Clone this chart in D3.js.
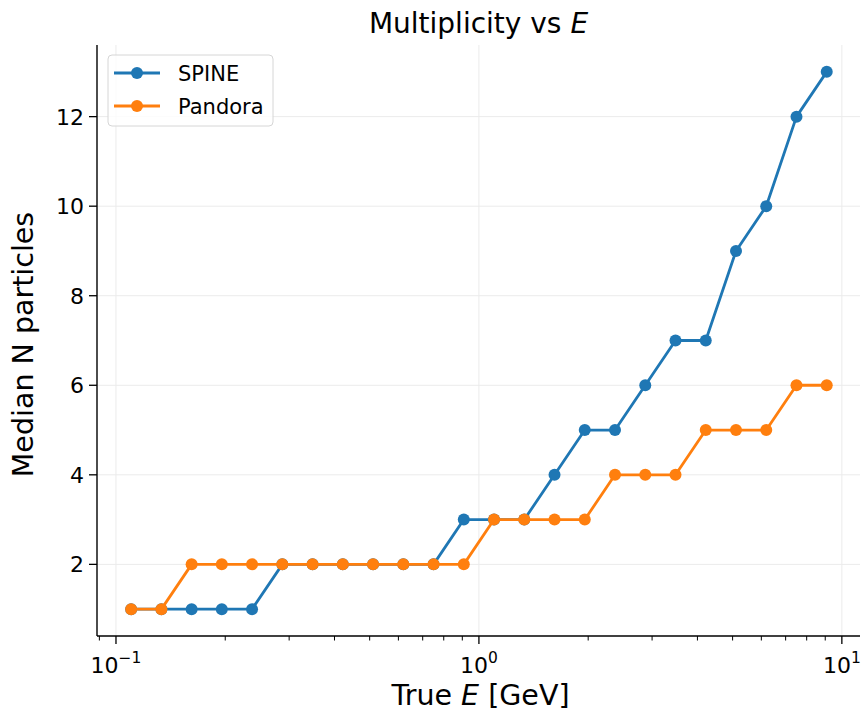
<!DOCTYPE html>
<html><head><meta charset="utf-8">
<script src="https://cdn.jsdelivr.net/npm/d3@7"></script>
<style>body{margin:0;background:#fff;} text{font-family:"DejaVu Sans",sans-serif;fill:#000;}</style>
</head><body>
<svg id="c" width="865" height="712"></svg>
<script>
const energies = [0.1101,0.1334,0.1616,0.1957,0.2371,0.2873,0.3481,0.4217,0.5109,0.6190,0.7499,0.9085,
                  1.1007,1.3335,1.6156,1.9573,2.3714,2.8730,3.4807,4.2170,5.1090,6.1897,7.4989,9.0852];
const spine   = [1,1,1,1,1,2,2,2,2,2,2,3,3,3,4,5,5,6,7,7,9,10,12,13];
const pandora = [1,1,2,2,2,2,2,2,2,2,2,2,3,3,3,3,4,4,4,5,5,5,6,6];
const seriesNames = ["SPINE","Pandora"];
const seriesColors = ["#1f77b4","#ff7f0e"];
const xMajorTicks = [0.1,1,10];
const xMajorExp = ["\u22121","0","1"];
const yTicks = [2,4,6,8,10,12];

const svg = d3.select("#c");
const L=97, R=860, T=45, B=636;
const x = d3.scaleLog().domain([Math.pow(10,-1.0523), Math.pow(10,1.050)]).range([L,R]);
const y = d3.scaleLinear().domain([0.4,13.6]).range([B,T]);

// grid
const g = svg.append("g");
g.selectAll(".gx").data(xMajorTicks).enter().append("line")
 .attr("x1",d=>x(d)).attr("x2",d=>x(d)).attr("y1",T).attr("y2",B)
 .attr("stroke","#ebebeb").attr("stroke-width",1);
g.selectAll(".gy").data(yTicks).enter().append("line")
 .attr("x1",L).attr("x2",R).attr("y1",d=>y(d)).attr("y2",d=>y(d))
 .attr("stroke","#ebebeb").attr("stroke-width",1);

// lines
const data = [spine,pandora];
const line = d3.line().x((d,i)=>x(energies[i])).y(d=>y(d));
data.forEach((s,k)=>{
  const gg = svg.append("g");
  gg.append("path").datum(s).attr("d",line).attr("fill","none")
    .attr("stroke",seriesColors[k]).attr("stroke-width",2.8).attr("stroke-linejoin","round");
  gg.selectAll("circle").data(s).enter().append("circle")
    .attr("cx",(d,i)=>x(energies[i])).attr("cy",d=>y(d)).attr("r",6)
    .attr("fill",seriesColors[k]);
});

// axes
const xAxis = svg.append("g").attr("transform",`translate(0,${B})`);
xAxis.append("line").attr("x1",L).attr("x2",R).attr("stroke","#000").attr("stroke-width",1.4);
const minor = [];
[0.01,0.1,1,10].forEach(dec=>{for(let m=2;m<=9;m++){const v=m*dec; if(v>=x.domain()[0]&&v<=x.domain()[1]) minor.push(v);}});
xAxis.selectAll(".mn").data(minor).enter().append("line")
  .attr("x1",d=>x(d)).attr("x2",d=>x(d)).attr("y1",0).attr("y2",4.5).attr("stroke","#000").attr("stroke-width",1);
xAxis.selectAll(".mj").data(xMajorTicks).enter().append("line")
  .attr("x1",d=>x(d)).attr("x2",d=>x(d)).attr("y1",0).attr("y2",8).attr("stroke","#000").attr("stroke-width",1.3);
xMajorTicks.forEach((d,i)=>{
  const t = xAxis.append("text").attr("x",x(d)).attr("y",37).attr("text-anchor","middle").attr("font-size",22);
  t.append("tspan").text("10");
  t.append("tspan").attr("dy",-10).attr("font-size",15.5).text(xMajorExp[i]);
});

const yAxis = svg.append("g").attr("transform",`translate(${L},0)`);
yAxis.append("line").attr("y1",T).attr("y2",B).attr("stroke","#000").attr("stroke-width",1.4);
yAxis.selectAll(".yt").data(yTicks).enter().append("line")
  .attr("x1",-8).attr("x2",0).attr("y1",d=>y(d)).attr("y2",d=>y(d)).attr("stroke","#000").attr("stroke-width",1.3);
yAxis.selectAll(".yl").data(yTicks).enter().append("text")
  .attr("x",-13).attr("y",d=>y(d)).attr("dy","0.36em").attr("text-anchor","end").attr("font-size",22).text(d=>d);

// labels
const tt = svg.append("text").attr("x",(L+R)/2).attr("y",33).attr("text-anchor","middle").attr("font-size",28);
tt.append("tspan").text("Multiplicity vs ");
tt.append("tspan").attr("font-style","italic").text("E");
const xl = svg.append("text").attr("x",(L+R)/2 + 2).attr("y",705).attr("text-anchor","middle").attr("font-size",28.5);
xl.append("tspan").text("True ");
xl.append("tspan").attr("font-style","italic").text("E");
xl.append("tspan").text(" [GeV]");
svg.append("text").attr("transform",`translate(33,${(T+B)/2 + 4}) rotate(-90)`).attr("text-anchor","middle")
  .attr("font-size",28.5).text("Median N particles");

// legend
const lg = svg.append("g");
lg.append("rect").attr("x",108).attr("y",55).attr("width",165).attr("height",71).attr("rx",4)
  .attr("fill","#fff").attr("fill-opacity",0.8).attr("stroke","#d6d6d6").attr("stroke-width",1);
seriesNames.forEach((n,k)=>{
  const yy = 73 + k*33;
  lg.append("line").attr("x1",114).attr("x2",160).attr("y1",yy).attr("y2",yy)
    .attr("stroke",seriesColors[k]).attr("stroke-width",2.8);
  lg.append("circle").attr("cx",137).attr("cy",yy).attr("r",6).attr("fill",seriesColors[k]);
  lg.append("text").attr("x",178).attr("y",yy).attr("dy","0.36em").attr("font-size",21).text(n);
});
</script>
</body></html>
